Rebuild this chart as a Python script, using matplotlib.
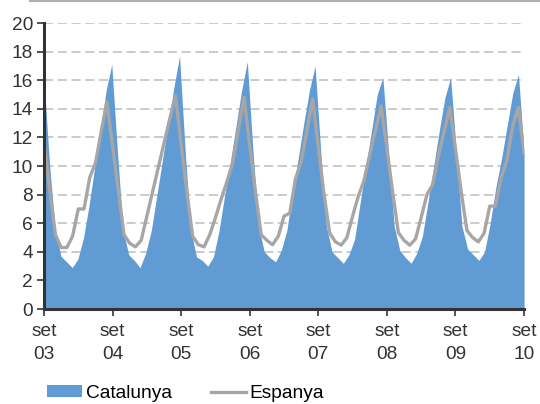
import numpy as np
import matplotlib.pyplot as plt
from matplotlib.lines import Line2D
from matplotlib.patches import Patch

plt.rcParams['font.family'] = ['Liberation Sans', 'DejaVu Sans']

# Catalunya, 86 points spread over set 03 .. set 10
catalunya = [
    16.0, 10.0, 5.5, 3.7, 3.3, 2.9, 3.5, 5.0, 7.3, 10.0, 12.5, 15.3,
    17.1, 11.0, 5.5, 3.8, 3.4, 2.9, 3.9, 5.5, 8.0, 10.5, 13.0, 15.5,
    17.7, 11.0, 5.5, 3.65, 3.4, 3.0, 3.65, 5.5, 8.0, 10.3, 12.8, 15.3,
    17.3, 11.0, 5.8, 4.0, 3.6, 3.3, 4.1, 5.5, 8.2, 10.5, 13.0, 15.3,
    17.0, 11.0, 5.8, 4.0, 3.6, 3.2, 3.8, 4.9, 7.5, 10.0, 12.5, 15.0,
    16.2, 11.0, 5.8, 4.1, 3.6, 3.2, 3.9, 5.1, 7.5, 10.0, 12.5, 14.8,
    16.2, 11.0, 5.8, 4.2, 3.8, 3.4, 4.0, 6.0, 8.5, 10.5, 12.8, 15.1,
    16.4, 11.0,
]

# Espanya, monthly from set 03 to set 10
espanya = [
    11.7, 8.3, 5.2, 4.3, 4.3, 5.1, 7.0, 7.0, 9.2, 10.2, 12.4, 14.5,
    11.4, 8.3, 5.2, 4.6, 4.35, 4.8, 6.5, 8.2, 9.9, 11.6, 13.3, 14.9,
    11.5, 8.2, 5.1, 4.5, 4.35, 5.2, 6.4, 7.7, 8.9, 10.2, 12.5, 14.8,
    11.4, 8.2, 5.2, 4.8, 4.5, 5.1, 6.5, 6.7, 9.1, 10.3, 12.5, 14.7,
    11.3, 8.0, 5.3, 4.7, 4.47, 5.0, 6.5, 7.9, 9.0, 10.8, 12.5, 14.2,
    11.2, 8.2, 5.35, 4.8, 4.47, 4.9, 6.4, 8.0, 8.7, 10.7, 12.4, 14.1,
    11.2, 8.2, 5.5, 5.0, 4.7, 5.3, 7.2, 7.2, 9.2, 10.4, 12.8, 14.1,
    10.9,
]

tick_labels = ['set\n03', 'set\n04', 'set\n05', 'set\n06',
               'set\n07', 'set\n08', 'set\n09', 'set\n10']

blue = '#619BD3'
grey = '#A6A6A6'

n_months = len(espanya) - 1
x_esp = np.arange(len(espanya))
x_cat = np.linspace(0, n_months, len(catalunya))

fig = plt.figure(figsize=(5.4, 4.04), dpi=100)
ax = fig.add_axes([0.0815, 0.235, 0.889, 0.708])

ax.fill_between(x_cat, catalunya, 0, color=blue, linewidth=0, zorder=2)
ax.plot(x_esp, espanya, color=grey, linewidth=2.4, zorder=3)

ax.set_xlim(0, n_months)
ax.set_ylim(0, 20)
ax.set_yticks(range(0, 21, 2))
ax.set_xticks(range(0, n_months + 1, 12))
ax.set_xticklabels(tick_labels, linespacing=1.45)

ax.yaxis.grid(True, linestyle=(0, (6, 3)), color='#BDBDBD', linewidth=1.1, zorder=1)
ax.set_axisbelow(True)

for side in ['top', 'right']:
    ax.spines[side].set_visible(False)
for side in ['left', 'bottom']:
    ax.spines[side].set_color('#333333')
    ax.spines[side].set_linewidth(2.2)
    ax.spines[side].set_zorder(4)

ax.tick_params(axis='both', colors='#333333', labelcolor='#333333',
               labelsize=13.8, length=5, width=1.2, direction='out')
ax.tick_params(axis='x', pad=5)
ax.tick_params(axis='y', pad=3)

# thin rule along the top edge
fig.add_artist(Line2D([0.055, 1.0], [0.997, 0.997], color='#B0B0B0', linewidth=1.5))

handles = [Patch(facecolor=blue, edgecolor='none', label='Catalunya'),
           Line2D([0], [0], color=grey, linewidth=2.4, label='Espanya')]
fig.legend(handles=handles, loc='lower left', bbox_to_anchor=(0.055, -0.038),
           ncol=2, frameon=False, fontsize=13.8, handlelength=1.85,
           handleheight=0.6, handletextpad=0.2, columnspacing=2.0)

fig.savefig('out.png', dpi=100)
